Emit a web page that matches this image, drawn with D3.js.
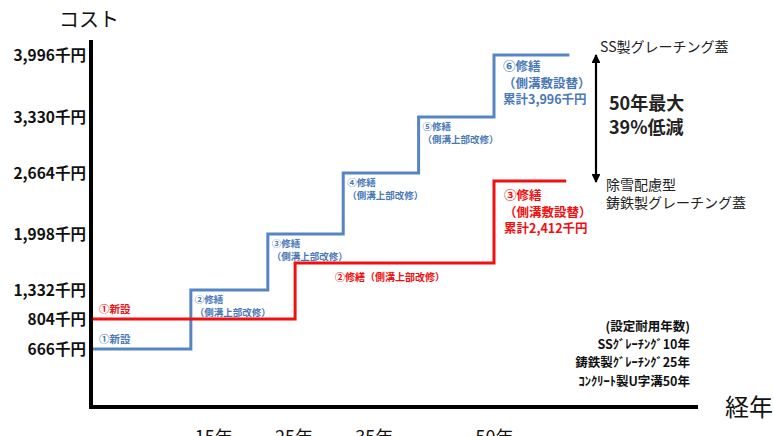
<!DOCTYPE html>
<html><head><meta charset="utf-8">
<script src="https://cdn.jsdelivr.net/npm/d3@7/dist/d3.min.js"></script>
<style>
html,body{margin:0;padding:0;background:#fff;}
svg{display:block;font-family:"Liberation Sans","Noto Sans CJK JP",sans-serif;}
.jp{font-family:"Noto Sans CJK JP","Liberation Sans",sans-serif;}
</style></head>
<body><svg id="c" width="774" height="436"></svg>
<script>
// ---- data ----
const yTickValues = [666, 804, 1332, 1998, 2664, 3330, 3996];
const xTickYears = [15, 25, 35, 50];
const blueYears = [0, 12.2, 21.8, 31.2, 40.6, 50];
const blueCost = [666, 1332, 1998, 2664, 3330, 3996];
const blueEndYear = 59.4;
const redYears = [0, 25.2, 50];
const redCost = [804, 1608, 2412];
const redEndYear = 59;
const blueLabels = [["①新設"], ["②修繕", "（側溝上部改修）"], ["③修繕", "（側溝上部改修）"], ["④修繕", "（側溝上部改修）"], ["⑤修繕", "（側溝上部改修）"], ["⑥修繕", "（側溝敷設替）", "累計3,996千円"]];
const redLabels = [["①新設"], ["②修繕（側溝上部改修）"], ["③修繕", "（側溝敷設替）", "累計2,412千円"]];
const lifeNotes = ["(設定耐用年数)", "SSｸﾞﾚｰﾁﾝｸﾞ10年", "鋳鉄製ｸﾞﾚｰﾁﾝｸﾞ25年", "ｺﾝｸﾘｰﾄ製U字溝50年"];

const BLUE = "#5585c2", BLUE_T = "#4a79b8", RED = "#f01010";
const svg = d3.select("#c");

// scales (schematic, piecewise y axis as in the original)
const x = d3.scaleLinear().domain([0, 50]).range([93, 494]);
const yKnots = [666, 804, 1332, 1608, 1998, 2412, 2664, 3330, 3996];
const y = d3.scaleLinear().domain(yKnots).range([349, 319, 290, 263, 234, 181, 173, 117, 55]);

// axes
svg.append("line").attr("x1", 91).attr("x2", 91).attr("y1", 40).attr("y2", 409)
  .attr("stroke", "#000").attr("stroke-width", 4);
svg.append("line").attr("x1", 89).attr("x2", 698).attr("y1", 407).attr("y2", 407)
  .attr("stroke", "#000").attr("stroke-width", 4);

const yAxis = d3.axisLeft(y).tickValues(yTickValues).tickSize(0).tickPadding(5)
  .tickFormat(d => d3.format(",")(d) + "千円");
const gy = svg.append("g").attr("transform", "translate(91,0)").call(yAxis);
gy.select(".domain").remove();
gy.selectAll("text").attr("class", "jp").style("font-size", "15.5px").style("font-weight", "bold")
  .style("fill", "#111").attr("dy", "0.38em");

const xAxis = d3.axisBottom(x).tickValues(xTickYears).tickSize(0).tickPadding(24)
  .tickFormat(d => d + "年");
const gx = svg.append("g").attr("transform", "translate(0,407)").call(xAxis);
gx.select(".domain").remove();
gx.selectAll("text").attr("class", "jp").style("font-size", "18px").style("fill", "#111");

// titles
svg.append("text").attr("class", "jp").attr("x", 89).attr("y", 27).attr("text-anchor", "middle")
  .style("font-size", "20px").style("fill", "#111").text("コスト");
svg.append("text").attr("class", "jp").attr("x", 749).attr("y", 416).attr("text-anchor", "middle")
  .style("font-size", "24px").style("fill", "#111").text("経年");

// step lines
const line = d3.line().x(d => x(d[0])).y(d => y(d[1])).curve(d3.curveStepAfter);
const bluePts = blueYears.map((yr, i) => [yr, blueCost[i]]).concat([[blueEndYear, blueCost[blueCost.length - 1]]]);
const redPts = redYears.map((yr, i) => [yr, redCost[i]]).concat([[redEndYear, redCost[redCost.length - 1]]]);
svg.append("path").attr("d", line(bluePts)).attr("fill", "none").attr("stroke", BLUE).attr("stroke-width", 3);
svg.append("path").attr("d", line(redPts)).attr("fill", "none").attr("stroke", RED).attr("stroke-width", 3);

// annotations
function block(lines, x0, y0, size, gap, color) {
  lines.forEach((s, i) => svg.append("text").attr("class", "jp").attr("x", x0).attr("y", y0 + i * gap)
    .style("font-size", size + "px").style("font-weight", "bold").style("fill", color).text(s));
}
blueLabels.forEach((lines, i) => {
  const x0 = x(blueYears[i]) + (i === 0 ? 6 : i === 5 ? 9 : 4);
  if (i === 0) block(lines, x0, y(blueCost[i]) - 6, 10.5, 12, BLUE_T);
  else if (i === 5) block(lines, x0, y(blueCost[i]) + 16, 12.5, 16.5, BLUE_T);
  else block(lines, x0, y(blueCost[i]) + 13, 9.5, 12.5, BLUE_T);
});
redLabels.forEach((lines, i) => {
  if (i === 0) block(lines, x(redYears[i]) + 6, y(redCost[i]) - 6, 10.5, 12, RED);
  else if (i === 1) block(lines, x(redYears[i]) + 40, y(redCost[i]) + 18, 10, 12, RED);
  else block(lines, x(redYears[i]) + 10, y(redCost[i]) + 19, 12.5, 16.5, RED);
});

// double arrow
const defs = svg.append("defs");
defs.append("marker").attr("id", "ah").attr("viewBox", "0 0 10 10").attr("refX", 9).attr("refY", 5)
  .attr("markerWidth", 4).attr("markerHeight", 4).attr("orient", "auto-start-reverse")
  .append("path").attr("d", "M0,0L10,5L0,10z").attr("fill", "#000");
svg.append("line").attr("x1", 596).attr("x2", 596).attr("y1", y(3996)).attr("y2", y(2412) + 1)
  .attr("stroke", "#000").attr("stroke-width", 2.2)
  .attr("marker-start", "url(#ah)").attr("marker-end", "url(#ah)");

// right side texts
const rt = (s, x0, y0, size, bold) => svg.append("text").attr("class", "jp").attr("x", x0).attr("y", y0)
  .style("font-size", size + "px").style("font-weight", bold ? "bold" : "normal").style("fill", "#222").text(s);
rt("SS製グレーチング蓋", 600, 52, 14, false);
rt("50年最大", 609, 110, 18, true);
rt("39%低減", 609, 134, 18, true);
rt("除雪配慮型", 606, 190, 14, false);
rt("鋳鉄製グレーチング蓋", 606, 208, 14, false);

// service life notes
lifeNotes.forEach((s, i) => svg.append("text").attr("class", "jp").attr("text-anchor", "end")
  .attr("x", 690).attr("y", 331 + i * 18.2)
  .style("font-size", "12.5px").style("font-weight", "bold").style("fill", "#111").text(s));
</script></body></html>
